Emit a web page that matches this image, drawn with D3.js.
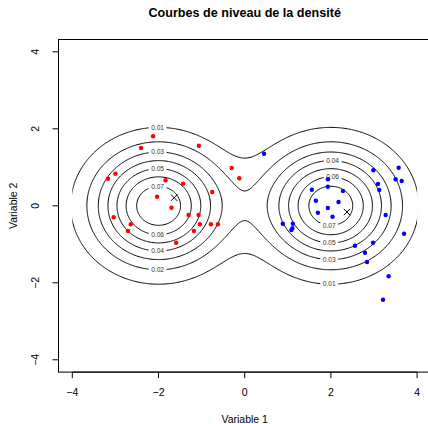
<!DOCTYPE html>
<html>
<head>
<meta charset="utf-8">
<script src="https://cdn.jsdelivr.net/npm/d3@7"></script>
<style>
  body { margin: 0; background: #fff; }
  svg { display: block; }
  text { font-family: "Liberation Sans", Arial, Helvetica, sans-serif; }
</style>
</head>
<body>
<svg id="chart" width="428" height="424"></svg>
<script>
// ---- data ----
const title = "Courbes de niveau de la densité";
const xLabel = "Variable 1";
const yLabel = "Variable 2";
const xTicks = [-4, -2, 0, 2, 4];
const yTicks = [-4, -2, 0, 2, 4];

// two-component Gaussian mixture whose density is contoured
const compMeanX = [-2, 2];
const compMeanY = [0, 0];
const compWeight = [0.5, 0.5];
const compSd = [1, 1];
const levels = [0.01, 0.02, 0.03, 0.04, 0.05, 0.06, 0.07];

// contour labels: level, x where it sits, above (1) or below (-1) the peak
const labelLevel = [0.01, 0.03, 0.05, 0.07, 0.06, 0.04, 0.02, 0.04, 0.06, 0.07, 0.05, 0.03, 0.01];
const labelX     = [-2.02, -2.02, -2.02, -2.02, -2.02, -2.02, -2.02, 2.04, 2.04, 1.96, 1.96, 1.96, 1.96];
const labelSide  = [1, 1, 1, 1, -1, -1, -1, 1, 1, -1, -1, -1, -1];

// observations of group 1 (red)
const redX = [-2.126, -2.405, -1.063, -0.302, -0.126, -3.000, -3.172, -1.837, -1.428, -0.753, -2.033,
              -1.698, -3.040, -1.302, -1.070, -2.644, -1.040, -0.784, -0.621, -2.707, -1.179, -1.591];
const redY = [1.805, 1.501, 1.561, 0.982, 0.714, 0.834, 0.704, 0.662, 0.574, 0.358, 0.236,
              -0.049, -0.299, -0.239, -0.239, -0.481, -0.481, -0.481, -0.481, -0.655, -0.655, -0.958];

// observations of group 2 (blue)
const blueX = [0.449, 3.572, 2.984, 1.930, 3.502, 3.642, 3.093, 1.930, 1.558, 2.279, 3.123, 1.651, 2.177, 1.930,
               1.698, 2.037, 3.270, 0.884, 1.116, 1.107, 1.084, 3.698, 2.977, 2.558, 2.791, 2.837, 3.340, 3.209];
const blueY = [1.353, 0.990, 0.922, 0.688, 0.688, 0.644, 0.566, 0.496, 0.418, 0.384, 0.410, 0.132, 0.099, -0.057,
               -0.179, -0.283, -0.239, -0.465, -0.465, -0.584, -0.629, -0.725, -0.958, -1.036, -1.218, -1.460, -1.831, -2.439];

// estimated group centres
const centreX = [-1.637, 2.372];
const centreY = [0.210, -0.161];

// ---- layout ----
const svg = d3.select("#chart");
const x = d3.scaleLinear().domain([-4.32, 4.32]).range([58.5, 430.9]);
const y = d3.scaleLinear().domain([-4.32, 4.32]).range([372.1, 39.5]);

function density(px, py) {
  let s = 0;
  for (let k = 0; k < compMeanX.length; k++) {
    const sd = compSd[k];
    const dx = (px - compMeanX[k]) / sd, dy = (py - compMeanY[k]) / sd;
    s += compWeight[k] * Math.exp(-(dx * dx + dy * dy) / 2) / (2 * Math.PI * sd * sd);
  }
  return s;
}

// ---- contours on a regular grid ----
const g0 = -5, step = 0.025, n = 401;
const values = new Float64Array(n * n);
for (let j = 0; j < n; j++) {
  for (let i = 0; i < n; i++) {
    values[i + j * n] = density(g0 + i * step, g0 + j * step);
  }
}
const contours = d3.contours().size([n, n]).thresholds(levels)(values);
const proj = d3.geoTransform({
  point: function (gx, gy) {
    this.stream.point(x(g0 + (gx - 0.5) * step), y(g0 + (gy - 0.5) * step));
  }
});
const path = d3.geoPath(proj);

// the density was evaluated on [-4, 4] in x: lines stop at the grid edge
svg.append("clipPath").attr("id", "gridclip")
  .append("rect")
  .attr("x", x(-4)).attr("y", y(4))
  .attr("width", x(4) - x(-4)).attr("height", y(-4) - y(4));

svg.append("g").attr("clip-path", "url(#gridclip)")
  .selectAll("path").data(contours).join("path")
  .attr("d", path)
  .attr("fill", "none")
  .attr("stroke", "#000")
  .attr("stroke-width", 1);

// ---- contour labels ----
function levelY(level, px, side) {
  let lo = 0, hi = 4 * side;
  for (let it = 0; it < 60; it++) {
    const mid = (lo + hi) / 2;
    if (density(px, mid) > level) lo = mid; else hi = mid;
  }
  return (lo + hi) / 2;
}
const lab = svg.append("g");
labelLevel.forEach((lv, i) => {
  const cx = x(labelX[i]);
  const cy = y(levelY(lv, labelX[i], labelSide[i]));
  const gg = lab.append("g");
  const bg = gg.append("rect").attr("fill", "#fff");
  const t = gg.append("text")
    .attr("x", cx).attr("y", cy + 2.3)
    .attr("text-anchor", "middle")
    .attr("font-size", 6.6)
    .attr("fill", "#333")
    .text(d3.format(".2f")(lv));
  const w = t.node().getComputedTextLength();
  bg.attr("x", cx - w / 2 - 2.5).attr("y", cy - 3).attr("width", w + 5).attr("height", 6);
});

// ---- points ----
svg.append("g").selectAll("circle").data(redX.map((v, i) => [v, redY[i]])).join("circle")
  .attr("cx", d => x(d[0])).attr("cy", d => y(d[1])).attr("r", 2.2).attr("fill", "#ff0000");
svg.append("g").selectAll("circle").data(blueX.map((v, i) => [v, blueY[i]])).join("circle")
  .attr("cx", d => x(d[0])).attr("cy", d => y(d[1])).attr("r", 2.2).attr("fill", "#0000ff");

// ---- centres (x marks) ----
const cs = 3.2;
svg.append("g").selectAll("path").data(centreX.map((v, i) => [v, centreY[i]])).join("path")
  .attr("d", d => {
    const px = x(d[0]), py = y(d[1]);
    return `M${px - cs},${py - cs}L${px + cs},${py + cs}M${px - cs},${py + cs}L${px + cs},${py - cs}`;
  })
  .attr("stroke", "#000").attr("stroke-width", 1).attr("fill", "none");

// ---- frame and axes ----
svg.append("rect")
  .attr("x", x.range()[0]).attr("y", y.range()[1])
  .attr("width", x.range()[1] - x.range()[0]).attr("height", y.range()[0] - y.range()[1])
  .attr("fill", "none").attr("stroke", "#000").attr("stroke-width", 1);

const fmt = v => (v < 0 ? "\u2212" + Math.abs(v) : String(v));
const xb = y.range()[0];
const xa = svg.append("g");
xa.append("line").attr("x1", x(xTicks[0])).attr("x2", x(xTicks[xTicks.length - 1]))
  .attr("y1", xb).attr("y2", xb).attr("stroke", "#000");
xa.selectAll("line.t").data(xTicks).join("line").attr("class", "t")
  .attr("x1", d => x(d)).attr("x2", d => x(d)).attr("y1", xb).attr("y2", xb + 6).attr("stroke", "#000");
xa.selectAll("text").data(xTicks).join("text")
  .attr("x", d => x(d)).attr("y", 395.5).attr("text-anchor", "middle")
  .attr("font-size", 10.5).text(fmt);

const yl = x.range()[0];
const ya = svg.append("g");
ya.append("line").attr("y1", y(yTicks[0])).attr("y2", y(yTicks[yTicks.length - 1]))
  .attr("x1", yl).attr("x2", yl).attr("stroke", "#000");
ya.selectAll("line.t").data(yTicks).join("line").attr("class", "t")
  .attr("y1", d => y(d)).attr("y2", d => y(d)).attr("x1", yl).attr("x2", yl - 6).attr("stroke", "#000");
ya.selectAll("text").data(yTicks).join("text")
  .attr("transform", d => `translate(38.5,${y(d)}) rotate(-90)`)
  .attr("text-anchor", "middle").attr("font-size", 10.5).text(fmt);

// ---- titles ----
const midX = (x.range()[0] + x.range()[1]) / 2;
svg.append("text").attr("x", midX).attr("y", 17).attr("text-anchor", "middle")
  .attr("font-size", 12.6).attr("font-weight", "bold").text(title);
svg.append("text").attr("x", midX).attr("y", 422.5).attr("text-anchor", "middle")
  .attr("font-size", 10.5).text(xLabel);
svg.append("text").attr("transform", `translate(16.7,${(y.range()[0] + y.range()[1]) / 2}) rotate(-90)`)
  .attr("text-anchor", "middle").attr("font-size", 10.5).text(yLabel);
</script>
</body>
</html>
